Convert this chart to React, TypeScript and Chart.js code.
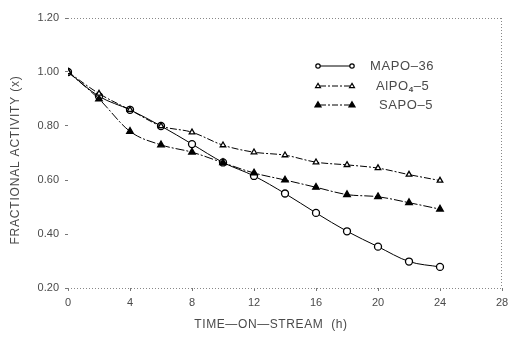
import { useEffect, useRef } from 'react';
import { Chart, registerables } from 'chart.js';

Chart.register(...registerables);

const hours = [0, 2, 4, 6, 8, 10, 12, 14, 16, 18, 20, 22, 24];
const mapo36 = [1.0, 0.91, 0.86, 0.8, 0.733, 0.665, 0.615, 0.55, 0.478, 0.41, 0.353, 0.298, 0.278];
const alpo45 = [1.0, 0.92, 0.86, 0.8, 0.777, 0.729, 0.703, 0.692, 0.666, 0.656, 0.644, 0.62, 0.598];
const sapo5 = [1.0, 0.9, 0.78, 0.73, 0.703, 0.664, 0.626, 0.6, 0.573, 0.546, 0.538, 0.516, 0.492];
const seriesLabels = ['MAPO–36', 'AlPO4–5', 'SAPO–5'];
const xTitle = 'TIME—ON—STREAM  (h)';
const yTitle = 'FRACTIONAL ACTIVITY (x)';

const FONT = '"Liberation Sans", "DejaVu Sans", sans-serif';
const TEXT = '#4a4a4a';

const toXY = (vals: number[]) => vals.map((v, i) => ({ x: hours[i], y: v }));

function drawMarker(ctx: CanvasRenderingContext2D, kind: string, x: number, y: number, r: number) {
  ctx.save();
  ctx.strokeStyle = '#000';
  ctx.lineWidth = 1.2;
  ctx.setLineDash([]);
  ctx.beginPath();
  if (kind === 'circle') {
    ctx.arc(x, y, r, 0, Math.PI * 2);
    ctx.fillStyle = '#fff';
    ctx.fill();
    ctx.stroke();
  } else {
    ctx.moveTo(x, y - r);
    ctx.lineTo(x + r * 0.95, y + r * 0.6);
    ctx.lineTo(x - r * 0.95, y + r * 0.6);
    ctx.closePath();
    ctx.fillStyle = kind === 'tri-filled' ? '#000' : '#fff';
    ctx.fill();
    ctx.stroke();
  }
  ctx.restore();
}

const decorPlugin = {
  id: 'decor',
  beforeDatasetsDraw(chart: any) {
    const { ctx, chartArea } = chart;
    const { left, right, top, bottom } = chartArea;
    ctx.save();
    ctx.strokeStyle = '#888';
    ctx.lineWidth = 1;
    ctx.setLineDash([1, 2]);
    ctx.beginPath();
    ctx.moveTo(left, top + 0.5);
    ctx.lineTo(right, top + 0.5);
    ctx.moveTo(left, bottom + 0.5);
    ctx.lineTo(right, bottom + 0.5);
    ctx.moveTo(right - 0.5, top);
    ctx.lineTo(right - 0.5, bottom);
    ctx.stroke();
    ctx.restore();
  },
  afterDraw(chart: any) {
    const { ctx, chartArea } = chart;
    ctx.save();
    ctx.fillStyle = TEXT;
    ctx.font = `12px ${FONT}`;
    (ctx as any).letterSpacing = '0.6px';
    ctx.textAlign = 'center';
    ctx.textBaseline = 'middle';
    ctx.fillText(xTitle, 271, 325);
    (ctx as any).letterSpacing = '0.8px';
    ctx.translate(16, 160);
    ctx.rotate(-Math.PI / 2);
    ctx.fillText(yTitle, 0, 0);
    ctx.restore();

    // legend
    const rows = [
      { label: seriesLabels[0], kind: 'circle', dash: [], y: 66, tx: 370 },
      { label: seriesLabels[1], kind: 'tri-open', dash: [6, 2, 2, 2], y: 86, tx: 376 },
      { label: seriesLabels[2], kind: 'tri-filled', dash: [6, 2, 2, 2], y: 105, tx: 379 },
    ];
    rows.forEach((r) => {
      ctx.save();
      ctx.strokeStyle = '#000';
      ctx.lineWidth = 1;
      ctx.setLineDash(r.dash);
      ctx.beginPath();
      ctx.moveTo(320, r.y);
      ctx.lineTo(351, r.y);
      ctx.stroke();
      ctx.restore();
      const rad = r.kind === 'circle' ? 2.2 : r.kind === 'tri-open' ? 2.6 : 3.2;
      drawMarker(ctx, r.kind, 318, r.y, rad);
      drawMarker(ctx, r.kind, 352, r.y, rad);
      ctx.save();
      ctx.fillStyle = TEXT;
      ctx.font = `13px ${FONT}`;
      (ctx as any).letterSpacing = '0.6px';
      ctx.textAlign = 'left';
      ctx.textBaseline = 'middle';
      if (r.label.includes('4')) {
        const [head, tail] = r.label.split('4');
        ctx.fillText(head, r.tx, r.y);
        let w = ctx.measureText(head).width;
        ctx.font = `bold 8px ${FONT}`;
        ctx.fillText('4', r.tx + w, r.y + 4);
        w += ctx.measureText('4').width;
        ctx.font = `13px ${FONT}`;
        ctx.fillText(tail, r.tx + w, r.y);
      } else {
        ctx.fillText(r.label, r.tx, r.y);
      }
      ctx.restore();
    });
  },
};

export default function App() {
  const canvasRef = useRef<HTMLCanvasElement | null>(null);

  useEffect(() => {
    document.body.style.margin = '0';
    const canvas = canvasRef.current;
    if (!canvas) return;
    const ds = (label: string, vals: number[], style: string, radius: number, fill: string, dash: number[]) => ({
      label,
      data: toXY(vals),
      borderColor: '#000',
      borderWidth: 1,
      borderDash: dash,
      pointStyle: style,
      pointRadius: radius,
      pointBackgroundColor: fill,
      pointBorderColor: '#000',
      pointBorderWidth: 1.3,
      cubicInterpolationMode: 'monotone',
      fill: false,
    });
    const chart = new Chart(canvas, {
      type: 'line',
      data: {
        datasets: [
          ds(seriesLabels[1], alpo45, 'triangle', 3.2, '#fff', [7, 2, 2, 2]),
          ds(seriesLabels[2], sapo5, 'triangle', 3.8, '#000', [9, 2, 2, 2]),
          ds(seriesLabels[0], mapo36, 'circle', 3.5, '#fff', []),
        ] as any,
      },
      options: {
        animation: false,
        responsive: false,
        maintainAspectRatio: false,
        layout: { padding: { top: 18, right: 8, left: 0, bottom: 0 } },
        plugins: { legend: { display: false }, tooltip: { enabled: false }, title: { display: false } },
        scales: {
          x: {
            type: 'linear',
            min: 0,
            max: 28,
            ticks: {
              stepSize: 4,
              padding: 5,
              color: TEXT,
              font: { family: FONT, size: 11 },
              maxRotation: 0,
            },
            grid: { display: true, drawOnChartArea: false, drawTicks: true, tickLength: 3, color: '#777' },
            border: { display: false },
            afterFit: (s: any) => { s.height = 53; s.paddingLeft = 0; s.paddingRight = 0; },
          },
          y: {
            type: 'linear',
            min: 0.2,
            max: 1.2,
            ticks: {
              stepSize: 0.2,
              padding: 6,
              color: TEXT,
              font: { family: FONT, size: 11 },
              callback: (v: any) => Number(v).toFixed(2),
            },
            grid: { display: true, drawOnChartArea: false, drawTicks: true, tickLength: 3, color: '#777' },
            border: { display: false },
            afterFit: (s: any) => { s.width = 68; s.paddingTop = 0; s.paddingBottom = 0; },
          },
        },
      } as any,
      plugins: [decorPlugin],
    });
    return () => chart.destroy();
  }, []);

  return (
    <div style={{ width: 510, height: 341, background: '#fff' }}>
      <canvas ref={canvasRef} width={510} height={341} style={{ display: 'block' }} />
    </div>
  );
}
